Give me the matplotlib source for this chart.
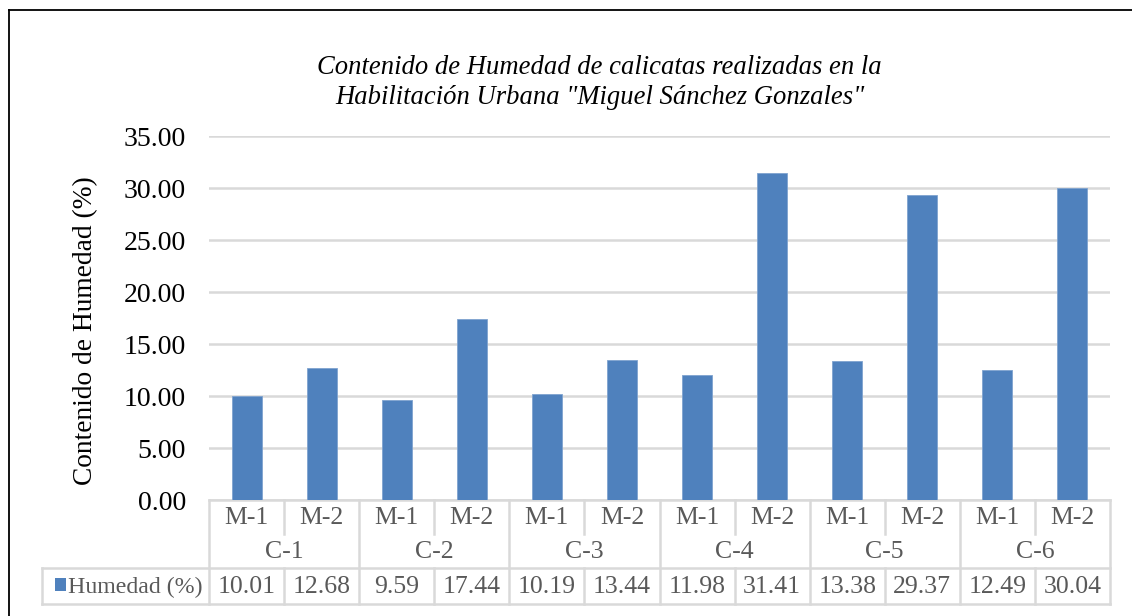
import matplotlib
matplotlib.use("Agg")
import matplotlib.pyplot as plt
from matplotlib.transforms import blended_transform_factory
from matplotlib.patches import Rectangle
from matplotlib.lines import Line2D

# ---- data ----
calicatas = ["C-1", "C-2", "C-3", "C-4", "C-5", "C-6"]
muestras = ["M-1", "M-2"]
humedad = [10.01, 12.68, 9.59, 17.44, 10.19, 13.44, 11.98, 31.41, 13.38, 29.37, 12.49, 30.04]
value_labels = ["10.01", "12.68", "9.59", "17.44", "10.19", "13.44", "11.98", "31.41", "13.38", "29.37", "12.49", "30.04"]
series_name = "Humedad (%)"
yticks = [0, 5, 10, 15, 20, 25, 30, 35]
title_lines = ['Contenido de Humedad de calicatas realizadas en la',
               'Habilitación Urbana "Miguel Sánchez Gonzales"']
ylabel = "Contenido de Humedad (%)"

W, H = 1132, 616
BAR = "#4F81BD"
GRID = "#D9D9D9"
TXT = "#595959"
FONT = "Liberation Serif"

plt.rcParams["font.family"] = FONT
fig = plt.figure(figsize=(W / 100, H / 100), dpi=100)

def fy(py):
    return 1 - py / H

def fx(px):
    return px / W

left_px, right_px, top_px, bot_px = 209, 1110, 136, 500
ax = fig.add_axes([fx(left_px), fy(bot_px), fx(right_px) - fx(left_px), fy(top_px) - fy(bot_px)])

n = len(humedad)
xs = list(range(n))
ax.bar(xs, humedad, width=0.4, color=BAR, edgecolor="#7FA3CF", linewidth=0.6, zorder=3)
ax.set_xlim(-0.5, n - 0.5)
ax.set_ylim(0, 35)
ax.set_yticks(yticks)
ax.set_yticklabels([f"{v:.2f}" for v in yticks], fontsize=20, color="black")
ax.tick_params(axis="y", length=0, pad=16.5)
ax.set_xticks([])
ax.grid(axis="y", color=GRID, linewidth=1.8, zorder=0)
for s in ["left", "right", "top"]:
    ax.spines[s].set_visible(False)
ax.spines["bottom"].set_color(GRID)
ax.spines["bottom"].set_linewidth(1.8)

fig.text(fx(86), fy(331), ylabel, rotation=90, ha="center", va="center", fontsize=19.7)

# title
fig.text(fx(599.5), fy(67), title_lines[0], ha="center", va="center", fontsize=19.2, style="italic")
fig.text(fx(599.5), fy(97), title_lines[1], ha="center", va="center", fontsize=19.2, style="italic")

# ---- data table ----
tr = blended_transform_factory(ax.transData, fig.transFigure)
lw = 1.8

def vline(x, y0, y1):
    fig.add_artist(Line2D([x, x], [fy(y0), fy(y1)], transform=tr, color=GRID, lw=lw, clip_on=False))

m_top, m_bot, c_bot, d_bot = 500, 534, 568, 604
bounds = [i - 0.5 for i in range(n + 1)]
for i, b in enumerate(bounds):
    if i % 2 == 0:
        vline(b, m_top, d_bot)
    else:
        vline(b, m_top, m_bot)
        vline(b, c_bot, d_bot)

leg_left = 42
for yy in (c_bot, d_bot):
    fig.add_artist(Line2D([fx(leg_left), fx(right_px)], [fy(yy), fy(yy)], transform=fig.transFigure,
                          color=GRID, lw=lw))
fig.add_artist(Line2D([fx(leg_left), fx(leg_left)], [fy(c_bot), fy(d_bot)], transform=fig.transFigure,
                      color=GRID, lw=lw))

for i in range(n):
    ax.text(i, fy((m_top + m_bot) / 2 + 1), muestras[i % 2], transform=tr, ha="center", va="center",
            fontsize=18.5, color=TXT)
    ax.text(i, fy((c_bot + d_bot) / 2 + 1), value_labels[i], transform=tr, ha="center", va="center",
            fontsize=18.5, color=TXT)
for g, c in enumerate(calicatas):
    ax.text(2 * g + 0.5, fy((m_bot + c_bot) / 2 + 1), c, transform=tr, ha="center", va="center",
            fontsize=18.5, color=TXT)

# legend cell
fig.add_artist(Rectangle((fx(55), fy(591)), fx(66) - fx(55), fy(578) - fy(591), transform=fig.transFigure,
                         facecolor=BAR, edgecolor="none"))
fig.text(fx(67.5), fy((c_bot + d_bot) / 2 + 1), series_name, ha="left", va="center", fontsize=17.2, color=TXT)

# outer border (top and left visible)
fig.add_artist(Line2D([fx(9), 1.0], [fy(10), fy(10)], transform=fig.transFigure, color="black", lw=1.3))
fig.add_artist(Line2D([fx(9), fx(9)], [fy(10), 0.0], transform=fig.transFigure, color="black", lw=1.3))

fig.savefig("out.png", dpi=100)
